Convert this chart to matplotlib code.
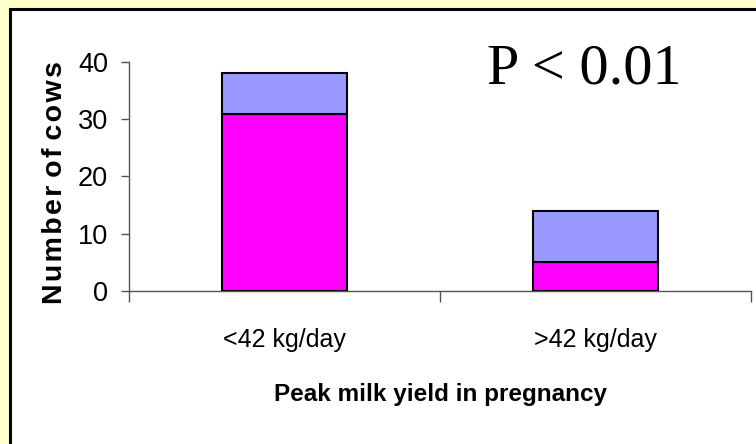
import matplotlib
matplotlib.use('Agg')
import matplotlib.pyplot as plt
from matplotlib.patches import Rectangle

# data
groups = ['<42 kg/day', '>42 kg/day']
lower  = [31, 5]     # magenta part
upper  = [7, 9]      # lavender part on top (totals 38 and 14)
yticks = [0, 10, 20, 30, 40]

plt.rcParams['font.family'] = ['Liberation Sans', 'DejaVu Sans']

fig = plt.figure(figsize=(7.56, 4.44), dpi=100)
fig.patch.set_facecolor('#FFFFCC')

# white panel with black border (runs off the right and bottom edges)
panel = Rectangle((9.5/756, -0.05), 1.0, 1 - 9.5/444 + 0.05, transform=fig.transFigure,
                  facecolor='white', edgecolor='black', linewidth=2.2, zorder=-5)
fig.patches.append(panel)

ax = fig.add_axes([129/756, 1 - 291/444, (751 - 129)/756, (291 - 62)/444])
ax.set_facecolor('none')
ax.set_zorder(2)

xpos = range(len(groups))
ax.bar(xpos, lower, width=0.4, color='#FF00FF', edgecolor='black', linewidth=1.5, zorder=3)
ax.bar(xpos, upper, width=0.4, bottom=lower, color='#9999FF', edgecolor='black', linewidth=1.5, zorder=3)

ax.set_xlim(-0.5, 1.5)
ax.set_ylim(0, 40)
for s in ['top', 'right']:
    ax.spines[s].set_visible(False)
ax.spines['left'].set_color('#555555')
ax.spines['bottom'].set_color('#555555')
ax.spines['left'].set_linewidth(1.0)
ax.spines['bottom'].set_linewidth(1.0)

ax.set_yticks(yticks)
ax.tick_params(axis='y', direction='out', length=6, width=1, color='#555555', pad=9, labelsize=19.5)

# category boundaries as major ticks, labels on minor ticks
ax.set_xticks([-0.5, 0.5, 1.5])
ax.set_xticklabels(['', '', ''])
ax.set_xticks(list(xpos), minor=True)
ax.set_xticklabels(groups, minor=True)
ax.tick_params(axis='x', which='major', direction='out', length=8, width=1, color='#555555')
ax.tick_params(axis='x', which='minor', length=0, pad=27, labelsize=18)

fig.text(440/756, 1 - 394/444, 'Peak milk yield in pregnancy', ha='center', va='center',
         fontsize=17.5, fontweight='bold')
hsp = '\u200a'
ylab = ' '.join(hsp.join(w) for w in ['Number', 'of', 'cows'])
fig.text(55/756, 1 - 183/444, ylab, ha='center', va='center', rotation=90,
         fontsize=20.5, fontweight='bold')

fig.text(487/756, 1 - 83/444, 'P < 0.01', ha='left', va='baseline',
         fontsize=42, family=['Liberation Serif', 'DejaVu Serif'])

plt.savefig('out.png', dpi=100, facecolor=fig.get_facecolor())
